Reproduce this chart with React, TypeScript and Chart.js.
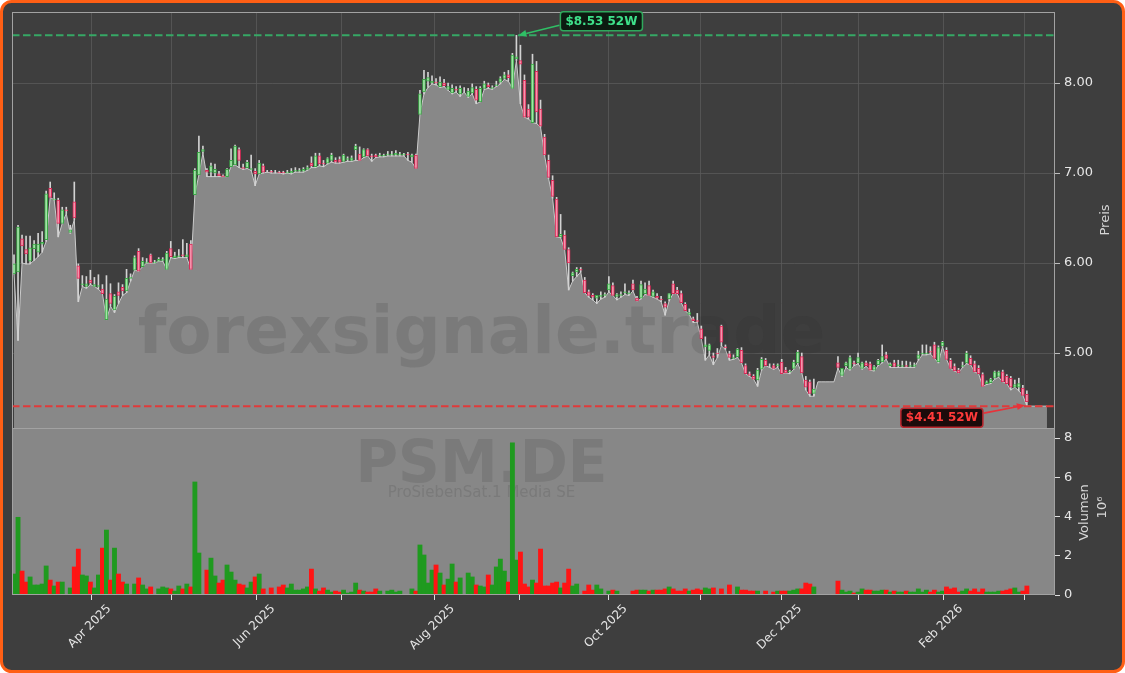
import React, { useEffect, useRef } from 'react';
import { Chart, registerables } from 'chart.js';

Chart.register(...registerables);

// ---------- data (trading-day index 0..252) ----------
const opens = [
  5.88,5.90,6.27,6.15,6.02,6.16,6.12,6.21,6.26,6.83,
  6.70,6.70,6.44,6.59,6.34,6.68,5.97,5.76,5.74,5.81,
  5.74,5.74,5.71,5.37,5.66,5.48,5.68,5.73,5.69,5.83,
  5.92,6.13,5.96,6.00,6.09,6.00,6.02,6.03,5.93,6.16,
  6.06,6.07,6.09,6.07,6.21,6.76,6.98,7.24,7.03,7.01,
  7.00,6.99,6.97,6.96,7.07,7.09,7.26,7.06,7.06,7.04,
  7.02,6.99,7.08,7.02,7.02,7.01,7.01,7.01,7.00,7.00,
  7.02,7.02,7.02,7.04,7.11,7.07,7.19,7.11,7.11,7.14,
  7.14,7.15,7.13,7.15,7.14,7.26,7.21,7.18,7.26,7.19,
  7.20,7.19,7.19,7.20,7.20,7.20,7.20,7.20,7.21,7.18,
  7.20,7.65,7.90,8.02,8.00,8.01,7.96,8.00,7.93,7.89,
  7.93,7.88,7.92,7.85,7.89,7.93,7.79,7.94,7.98,7.94,
  7.97,8.01,8.05,8.09,7.94,8.27,8.25,8.03,7.71,7.56,
  8.13,7.71,7.40,7.14,6.92,6.71,6.29,6.31,6.15,5.86,
  5.90,5.93,5.81,5.68,5.64,5.61,5.63,5.64,5.70,5.75,
  5.63,5.64,5.67,5.66,5.77,5.61,5.61,5.66,5.75,5.63,
  5.63,5.60,5.55,5.60,5.77,5.70,5.66,5.54,5.43,5.38,
  5.36,5.27,5.07,5.03,4.97,5.00,5.30,5.07,4.99,4.94,
  4.96,5.03,4.86,4.77,4.74,4.70,4.82,4.92,4.85,4.86,
  4.86,4.90,4.81,4.79,4.83,4.89,4.96,4.70,4.68,4.55,
  null,null,null,null,null,4.89,4.75,4.86,4.82,4.89,
  4.89,4.83,4.89,4.88,4.81,4.87,4.90,4.98,4.86,4.89,
  4.86,4.85,4.86,4.85,4.85,4.94,4.99,4.99,5.02,5.09,
  4.90,5.08,5.03,4.92,4.85,4.81,4.85,4.89,4.94,4.88,
  4.83,4.76,4.66,4.67,4.72,4.74,4.79,4.74,4.72,4.62,
  4.62,4.61,4.54,
];
const highs = [
  6.09,6.42,6.31,6.30,6.30,6.25,6.33,6.35,6.80,6.90,
  6.78,6.72,6.62,6.62,6.42,6.90,5.99,5.86,5.85,5.92,
  5.84,5.87,5.76,5.86,5.77,5.65,5.78,5.76,5.93,5.88,
  6.08,6.16,6.06,6.05,6.10,6.03,6.06,6.06,6.13,6.24,
  6.12,6.15,6.26,6.22,6.25,7.05,7.41,7.30,7.05,7.11,
  7.10,7.02,6.98,7.05,7.27,7.31,7.28,7.10,7.14,7.20,
  7.05,7.14,7.10,7.03,7.03,7.03,7.02,7.02,7.03,7.05,
  7.06,7.05,7.06,7.08,7.18,7.22,7.22,7.14,7.17,7.22,
  7.17,7.18,7.21,7.18,7.19,7.32,7.29,7.27,7.27,7.21,
  7.21,7.22,7.21,7.24,7.24,7.25,7.23,7.22,7.23,7.21,
  7.21,7.92,8.14,8.12,8.08,8.05,8.07,8.04,8.00,7.98,
  7.96,7.97,7.95,7.94,7.99,7.96,7.96,8.02,8.00,7.97,
  8.02,8.07,8.12,8.14,8.33,8.53,8.42,8.09,7.76,8.32,
  8.24,7.81,7.43,7.20,6.97,6.73,6.54,6.36,6.17,5.90,
  5.95,5.95,5.84,5.70,5.66,5.64,5.68,5.67,5.85,5.78,
  5.66,5.68,5.77,5.69,5.81,5.63,5.80,5.78,5.80,5.70,
  5.66,5.63,5.57,5.66,5.80,5.73,5.69,5.56,5.49,5.40,
  5.44,5.30,5.18,5.10,5.00,5.05,5.31,5.09,5.02,4.98,
  5.05,5.06,4.88,4.79,4.76,4.83,4.95,4.94,4.88,4.88,
  4.88,4.93,4.84,4.81,4.92,5.03,5.00,4.74,4.70,4.71,
  null,null,null,null,null,4.96,4.83,4.90,4.97,4.91,
  5.00,4.90,4.91,4.90,4.86,4.93,5.09,5.01,4.89,4.92,
  4.92,4.91,4.91,4.90,4.89,5.02,5.09,5.09,5.07,5.12,
  5.08,5.13,5.06,4.94,4.88,4.83,4.90,5.02,4.97,4.91,
  4.86,4.78,4.69,4.72,4.80,4.80,4.81,4.76,4.74,4.70,
  4.72,4.64,4.58,
];
const lows = [
  5.88,5.14,6.00,5.99,5.99,6.03,6.07,6.12,6.24,6.73,
  6.70,6.29,6.44,6.55,6.33,6.48,5.57,5.74,5.72,5.76,
  5.74,5.71,5.66,5.37,5.52,5.45,5.55,5.64,5.67,5.80,
  5.92,5.91,5.96,6.00,6.00,6.00,6.02,6.02,5.93,6.06,
  6.05,6.06,6.06,6.06,5.93,6.76,6.98,7.22,6.96,6.96,
  6.96,6.96,6.96,6.96,7.07,7.09,7.06,7.04,7.05,7.03,
  6.86,6.99,7.00,7.01,7.00,7.00,7.00,6.99,7.00,6.99,
  7.01,7.01,7.01,7.03,7.06,7.06,7.08,7.07,7.10,7.12,
  7.11,7.11,7.12,7.13,7.13,7.14,7.14,7.17,7.19,7.13,
  7.17,7.18,7.18,7.19,7.19,7.19,7.19,7.19,7.14,7.12,
  7.05,7.65,7.88,7.95,7.99,7.98,7.95,7.96,7.92,7.88,
  7.90,7.85,7.90,7.84,7.88,7.77,7.79,7.93,7.94,7.93,
  7.96,7.99,8.04,8.02,7.94,8.25,7.77,7.62,7.60,7.56,
  7.55,7.51,7.20,6.94,6.72,6.29,6.28,6.15,5.70,5.80,
  5.85,5.90,5.67,5.62,5.59,5.55,5.60,5.62,5.68,5.64,
  5.59,5.62,5.65,5.64,5.69,5.58,5.60,5.65,5.64,5.62,
  5.60,5.57,5.42,5.58,5.66,5.66,5.56,5.47,5.43,5.34,
  5.34,5.16,4.92,4.98,4.87,4.95,5.08,5.04,4.92,4.93,
  4.95,4.89,4.77,4.74,4.71,4.63,4.81,4.86,4.84,4.82,
  4.84,4.77,4.78,4.77,4.82,4.88,4.78,4.59,4.52,4.52,
  null,null,null,null,null,4.83,4.74,4.84,4.81,4.86,
  4.88,4.82,4.85,4.81,4.80,4.86,4.89,4.93,4.84,4.84,
  4.84,4.84,4.84,4.84,4.84,4.92,4.98,4.98,4.99,4.94,
  4.89,5.07,4.93,4.83,4.80,4.78,4.84,4.88,4.87,4.79,
  4.77,4.63,4.65,4.66,4.71,4.73,4.68,4.66,4.59,4.62,
  4.58,4.53,4.41,
];
const closes = [
  5.99,6.40,6.19,6.10,6.17,6.21,6.21,6.23,6.77,6.73,
  6.71,6.44,6.59,6.58,6.37,6.50,5.83,5.77,5.77,5.78,
  5.76,5.75,5.66,5.60,5.55,5.63,5.64,5.69,5.83,5.84,
  6.06,5.91,6.02,6.01,6.00,6.01,6.04,6.04,6.11,6.07,
  6.08,6.08,6.08,6.09,5.93,7.03,7.23,7.26,7.01,7.08,
  7.04,6.97,6.96,7.04,7.14,7.30,7.14,7.05,7.12,7.05,
  6.99,7.11,7.01,7.02,7.01,7.01,7.00,7.00,7.01,7.02,
  7.03,7.03,7.04,7.06,7.08,7.19,7.10,7.10,7.16,7.20,
  7.12,7.12,7.20,7.16,7.17,7.30,7.14,7.26,7.19,7.18,
  7.18,7.20,7.20,7.21,7.21,7.22,7.21,7.21,7.20,7.20,
  7.05,7.88,8.04,8.06,8.02,8.00,8.01,7.97,7.96,7.94,
  7.92,7.94,7.92,7.91,7.95,7.81,7.94,7.99,7.96,7.95,
  7.98,8.05,8.09,8.06,8.31,8.29,8.21,7.62,7.62,8.21,
  7.68,7.52,7.20,6.95,6.74,6.29,6.32,6.15,6.00,5.89,
  5.93,5.92,5.67,5.64,5.62,5.64,5.64,5.65,5.77,5.64,
  5.65,5.65,5.68,5.67,5.70,5.58,5.76,5.71,5.64,5.68,
  5.61,5.59,5.51,5.66,5.66,5.66,5.56,5.47,5.45,5.36,
  5.35,5.16,5.09,5.09,4.95,4.99,5.12,5.06,4.95,4.95,
  5.04,4.89,4.77,4.75,4.71,4.81,4.93,4.86,4.85,4.83,
  4.87,4.77,4.78,4.80,4.90,5.01,4.78,4.62,4.55,4.60,
  null,null,null,null,null,4.84,4.83,4.89,4.95,4.88,
  4.95,4.89,4.86,4.81,4.85,4.92,4.96,4.94,4.88,4.85,
  4.87,4.86,4.85,4.86,4.87,4.98,5.00,5.00,5.01,4.94,
  5.06,5.12,4.93,4.83,4.80,4.78,4.86,5.00,4.87,4.79,
  4.77,4.63,4.68,4.71,4.79,4.79,4.68,4.66,4.62,4.65,
  4.66,4.53,4.46,
];
// volume in millions
const volumes = [
  1.07,3.96,1.22,0.66,0.92,0.51,0.51,0.56,1.48,0.76,
  0.46,0.66,0.66,0,0.36,1.43,2.34,1.02,0.97,0.66,
  0.36,1.02,2.39,3.31,0.76,2.39,1.07,0.66,0.56,0,
  0.56,0.87,0.51,0.31,0.41,0,0.31,0.41,0.36,0.31,
  0.20,0.46,0.31,0.56,0.41,5.76,2.14,0,1.27,1.88,
  0.97,0.61,0.76,1.53,1.17,0.76,0.56,0.51,0.36,0.66,
  0.92,1.07,0.31,0,0.36,0,0.41,0.51,0.36,0.56,
  0.25,0.25,0.31,0.41,1.32,0.31,0.20,0.36,0.25,0.15,
  0.20,0.15,0.25,0.10,0.15,0.61,0.25,0.20,0.15,0.15,
  0.31,0.20,0,0.20,0.25,0.15,0.20,0,0,0.31,
  0.20,2.55,2.04,0.61,1.27,1.53,1.12,0.51,0.81,1.58,
  0.66,0.87,0,1.12,0.92,0.51,0.46,0.41,1.02,0.51,
  1.43,1.83,1.22,0.66,7.76,1.78,2.19,0.56,0.41,0.76,
  0.61,2.34,0.46,0.46,0.61,0.66,0.36,0.61,1.32,0.46,
  0.56,0,0.20,0.51,0.25,0.51,0.31,0,0.20,0.25,
  0.20,0,0,0,0.20,0.25,0.25,0.25,0.20,0.25,
  0.25,0.25,0.31,0.41,0.31,0.20,0.20,0.31,0.20,0.25,
  0.31,0.25,0.36,0.31,0.36,0,0.31,0,0.51,0,
  0.41,0.25,0.25,0.20,0.20,0.20,0,0.20,0,0.15,
  0.20,0.20,0.20,0.20,0.25,0.31,0.31,0.61,0.56,0.41,
  0,0,0,0,0,0.71,0.25,0.15,0.20,0.10,
  0.15,0.31,0.25,0.25,0.20,0.20,0.25,0.25,0.15,0.20,
  0.15,0.15,0.20,0.15,0.15,0.31,0.15,0.25,0.15,0.25,
  0.15,0.20,0.41,0.31,0.36,0.15,0.20,0.31,0.20,0.31,
  0.15,0.31,0.15,0.15,0.15,0.20,0.20,0.25,0.31,0.36,
  0.15,0.20,0.46,
];

const monthTickPos = [19.33, 39.23, 60.3, 81.5, 104.55, 125.7, 147.8, 170.7, 191.0, 210.0, 231.2, 251.3];
const monthTickLabels = ['Apr 2025', '', 'Jun 2025', '', 'Aug 2025', '', 'Oct 2025', '', 'Dec 2025', '', 'Feb 2026', ''];
const priceTicks = [5, 6, 7, 8];
const volumeTicks = [0, 2, 4, 6, 8];

const high52 = 8.53;
const high52Index = 125;
const low52 = 4.41;
const low52Index = 252;
const gapLevel = 4.68; // level of the line across the days without candles
const tailEnd = 257; // the filled area runs on flat to this index

const watermark = 'forexsignale.trade';
const tickerText = 'PSM.DE';
const companyText = 'ProSiebenSat.1 Media SE';

// ---------- style ----------
const FONT = "'DejaVu Sans', 'Liberation Sans', sans-serif";
const FIG_BG = '#3e3e3e';
const PANEL_GRAY = '#878787';
const GRID = '#5a5a5a';
const TICK_TXT = '#e6e6e6';
const LABEL_TXT = '#d6d6d6';
const UP_FILL = '#a3e4a8';
const UP_EDGE = '#3aa845';
const DN_FILL = '#f495ad';
const DN_EDGE = '#d92a57';
const VOL_UP = '#1f9a1f';
const VOL_DN = '#ff1414';

function roundRectPath(ctx: CanvasRenderingContext2D, x: number, y: number, w: number, h: number, r: number) {
  ctx.beginPath();
  ctx.moveTo(x + r, y);
  ctx.lineTo(x + w - r, y);
  ctx.arcTo(x + w, y, x + w, y + r, r);
  ctx.lineTo(x + w, y + h - r);
  ctx.arcTo(x + w, y + h, x + w - r, y + h, r);
  ctx.lineTo(x + r, y + h);
  ctx.arcTo(x, y + h, x, y + h - r, r);
  ctx.lineTo(x, y + r);
  ctx.arcTo(x, y, x + r, y, r);
  ctx.closePath();
}

function drawArrow(ctx: CanvasRenderingContext2D, x1: number, y1: number, x2: number, y2: number, color: string) {
  const ang = Math.atan2(y2 - y1, x2 - x1);
  const head = 8;
  const bx = x2 - head * Math.cos(ang);
  const by = y2 - head * Math.sin(ang);
  ctx.strokeStyle = color;
  ctx.fillStyle = color;
  ctx.lineWidth = 1.6;
  ctx.beginPath();
  ctx.moveTo(x1, y1);
  ctx.lineTo(bx, by);
  ctx.stroke();
  ctx.beginPath();
  ctx.moveTo(x2, y2);
  ctx.lineTo(bx + 3.5 * Math.sin(ang), by - 3.5 * Math.cos(ang));
  ctx.lineTo(bx - 3.5 * Math.sin(ang), by + 3.5 * Math.cos(ang));
  ctx.closePath();
  ctx.fill();
}

function drawTag(ctx: CanvasRenderingContext2D, cx: number, cy: number, text: string, txtColor: string, fill: string, edge: string) {
  ctx.font = `bold 12px ${FONT}`;
  const w = ctx.measureText(text).width + 10;
  const h = 19;
  roundRectPath(ctx, cx - w / 2, cy - h / 2, w, h, 3);
  ctx.fillStyle = fill;
  ctx.fill();
  ctx.lineWidth = 1.5;
  ctx.strokeStyle = edge;
  ctx.stroke();
  ctx.fillStyle = txtColor;
  ctx.textAlign = 'center';
  ctx.textBaseline = 'middle';
  ctx.fillText(text, cx, cy + 0.5);
}

const VOL_DATASET = 1;

const decorPlugin = {
  id: 'decor',
  beforeDraw(chart: any) {
    const ctx = chart.ctx as CanvasRenderingContext2D;
    ctx.save();
    ctx.fillStyle = '#ffffff';
    ctx.fillRect(0, 0, chart.width, chart.height);
    roundRectPath(ctx, 1.5, 1.5, chart.width - 3, chart.height - 3, 10);
    ctx.fillStyle = FIG_BG;
    ctx.fill();
    ctx.lineWidth = 3;
    ctx.strokeStyle = '#ff5f15';
    ctx.stroke();
    ctx.restore();
  },
  beforeDatasetsDraw(chart: any) {
    const ctx = chart.ctx as CanvasRenderingContext2D;
    const a = chart.chartArea;
    const yv = chart.scales.yVol;
    ctx.save();
    ctx.fillStyle = PANEL_GRAY;
    ctx.fillRect(a.left, yv.top, a.right - a.left, yv.bottom - yv.top);
    ctx.restore();
  },
  beforeDatasetDraw(chart: any, args: any) {
    if (args.index !== VOL_DATASET) return;
    const ctx = chart.ctx as CanvasRenderingContext2D;
    const a = chart.chartArea;
    const cx = (a.left + a.right) / 2 - 52;
    ctx.save();
    ctx.fillStyle = 'rgba(40,40,40,0.14)';
    ctx.textAlign = 'center';
    ctx.textBaseline = 'alphabetic';
    ctx.font = `bold 66px ${FONT}`;
    ctx.fillText(watermark, cx, 353);
    ctx.font = `bold 58px ${FONT}`;
    ctx.fillText(tickerText, cx, 482);
    ctx.font = `15px ${FONT}`;
    ctx.fillText(companyText, cx, 497);
    ctx.restore();
  },
  afterDatasetsDraw(chart: any) {
    const ctx = chart.ctx as CanvasRenderingContext2D;
    const a = chart.chartArea;
    const x = chart.scales.x;
    const y = chart.scales.y;
    const yv = chart.scales.yVol;
    ctx.save();
    // spines
    ctx.strokeStyle = '#a2a2a2';
    ctx.lineWidth = 1;
    ctx.strokeRect(a.left + 0.5, y.top + 0.5, a.right - a.left - 1, y.bottom - y.top);
    ctx.strokeRect(a.left + 0.5, yv.top + 0.5, a.right - a.left - 1, yv.bottom - yv.top - 1);
    // 52W high tag
    const hx = x.getPixelForValue(high52Index);
    const hy = y.getPixelForValue(high52);
    drawArrow(ctx, hx + 43, hy - 10, hx + 2, hy, '#2fbf65');
    drawTag(ctx, hx + 85, hy - 14, `$${high52.toFixed(2)} 52W`, '#3ee08a', '#0c1a10', '#2fa85c');
    // 52W low tag
    const lx = x.getPixelForValue(low52Index);
    const ly = y.getPixelForValue(low52);
    drawArrow(ctx, lx - 43, ly + 7, lx - 2, ly - 1, '#e8323a');
    drawTag(ctx, lx - 85, ly + 11.5, `$${low52.toFixed(2)} 52W`, '#ff3a3a', '#1c0b0b', '#b8262d');
    ctx.restore();
  },
  afterDraw(chart: any) {
    const ctx = chart.ctx as CanvasRenderingContext2D;
    const a = chart.chartArea;
    const x = chart.scales.x;
    const y = chart.scales.y;
    const yv = chart.scales.yVol;
    ctx.save();
    // rotated month labels, box centred on the tick (matplotlib style)
    ctx.font = `12px ${FONT}`;
    ctx.fillStyle = TICK_TXT;
    ctx.textAlign = 'center';
    ctx.textBaseline = 'middle';
    monthTickPos.forEach((pos, i) => {
      const label = monthTickLabels[i];
      if (!label) return;
      const w = ctx.measureText(label).width;
      const side = (w + 14) * Math.SQRT1_2;
      const px = x.getPixelForValue(pos) - 2;
      const py = a.bottom + 7 + side / 2;
      ctx.save();
      ctx.translate(px, py);
      ctx.rotate(-Math.PI / 4);
      ctx.fillText(label, 0, 0);
      ctx.restore();
    });
    // axis titles
    ctx.fillStyle = LABEL_TXT;
    ctx.font = `13px ${FONT}`;
    const rot = (text: string, cx: number, cy: number) => {
      ctx.save();
      ctx.translate(cx, cy);
      ctx.rotate(-Math.PI / 2);
      ctx.fillText(text, 0, 0);
      ctx.restore();
    };
    rot('Preis', a.right + 51, (y.top + y.bottom) / 2);
    rot('Volumen', a.right + 30, (yv.top + yv.bottom) / 2 + 1);
    rot('10\u2076', a.right + 48, (yv.top + yv.bottom) / 2 - 4);
    ctx.restore();
  },
};

export default function App() {
  const ref = useRef<HTMLCanvasElement | null>(null);

  useEffect(() => {
    document.body.style.margin = '0';
    const canvas = ref.current;
    if (!canvas) return;

    const idx = opens.map((_, i) => i);
    const valid = idx.filter((i) => opens[i] != null);
    const isUp = (i: number) => (closes[i] as number) >= (opens[i] as number);

    const areaData: { x: number; y: number }[] = idx.map((i) => ({ x: i, y: (lows[i] ?? gapLevel) as number }));
    const lastLow = lows[lows.length - 1] as number;
    for (let i = lows.length; i <= tailEnd; i++) areaData.push({ x: i, y: lastLow });

    const volData = idx.map((i) => ({ x: i, y: volumes[i] }));
    const volColors = idx.map((i) => (opens[i] != null && isUp(i) ? VOL_UP : VOL_DN));

    const wickData = valid.map((i) => ({ x: i, y: [lows[i], highs[i]] }));
    const bodyData = valid.map((i) => ({ x: i, y: [opens[i], closes[i]] }));
    const bodyFill = valid.map((i) => (isUp(i) ? UP_FILL : DN_FILL));
    const bodyEdge = valid.map((i) => (isUp(i) ? UP_EDGE : DN_EDGE));

    const xMin = -0.5;
    const xMax = 259;

    const chart = new Chart(canvas, {
      type: 'line',
      data: {
        datasets: [
          {
            type: 'line',
            label: 'area',
            data: areaData,
            yAxisID: 'y',
            borderColor: '#cbcbcb',
            borderWidth: 1,
            backgroundColor: '#888888',
            fill: 'start',
            pointRadius: 0,
            tension: 0,
            order: 10,
          },
          {
            type: 'bar',
            label: 'volume',
            data: volData,
            yAxisID: 'yVol',
            backgroundColor: volColors,
            borderWidth: 0,
            grouped: false,
            barThickness: 4.2,
            order: 9,
          },
          {
            type: 'bar',
            label: 'wick',
            data: wickData,
            yAxisID: 'y',
            backgroundColor: '#d2d2d2',
            borderWidth: 0,
            grouped: false,
            barThickness: 1,
            order: 8,
          },
          {
            type: 'bar',
            label: 'body',
            data: bodyData,
            yAxisID: 'y',
            backgroundColor: bodyFill,
            borderColor: bodyEdge,
            borderWidth: 1,
            borderSkipped: false,
            grouped: false,
            barThickness: 3,
            order: 7,
          },
          {
            type: 'line',
            label: 'high52',
            data: [{ x: xMin, y: high52 }, { x: xMax, y: high52 }],
            yAxisID: 'y',
            borderColor: '#36a865',
            borderWidth: 2,
            borderDash: [7.5, 3.5],
            pointRadius: 0,
            fill: false,
            order: 6,
          },
          {
            type: 'line',
            label: 'low52',
            data: [{ x: xMin, y: low52 }, { x: xMax, y: low52 }],
            yAxisID: 'y',
            borderColor: '#e03a3a',
            borderWidth: 2,
            borderDash: [7.5, 3.5],
            pointRadius: 0,
            fill: false,
            order: 5,
          },
        ] as any,
      },
      options: {
        responsive: false,
        maintainAspectRatio: false,
        devicePixelRatio: 1,
        animation: false,
        events: [],
        layout: { padding: { left: 12, top: 12, right: 10, bottom: 0 } },
        plugins: {
          legend: { display: false },
          tooltip: { enabled: false },
        },
        scales: {
          x: {
            type: 'linear',
            min: xMin,
            max: xMax,
            offset: false,
            afterBuildTicks: (s: any) => {
              s.ticks = monthTickPos.map((v) => ({ value: v }));
            },
            ticks: { display: false },
            grid: {
              color: GRID,
              lineWidth: 0.8,
              offset: false,
              drawTicks: true,
              tickLength: 5,
              tickColor: '#dedede',
              tickWidth: 1,
            },
            border: { display: false },
            afterFit: (s: any) => {
              s.height = 78;
            },
          },
          y: {
            type: 'linear',
            position: 'right',
            stack: 'panels',
            stackWeight: 416,
            min: 4.167,
            max: 8.789,
            afterBuildTicks: (s: any) => {
              s.ticks = priceTicks.map((v) => ({ value: v }));
            },
            ticks: {
              color: TICK_TXT,
              font: { family: FONT, size: 13 },
              padding: 4,
              autoSkip: false,
              callback: (v: any) => Number(v).toFixed(2),
            },
            grid: { color: GRID, lineWidth: 0.8, tickLength: 5, tickColor: '#dedede' },
            border: { display: false },
            afterFit: (s: any) => {
              s.width = 60;
            },
          },
          yVol: {
            type: 'linear',
            position: 'right',
            stack: 'panels',
            stackWeight: 167,
            min: 0,
            max: 8.51,
            afterBuildTicks: (s: any) => {
              s.ticks = volumeTicks.map((v) => ({ value: v }));
            },
            ticks: {
              color: TICK_TXT,
              font: { family: FONT, size: 13 },
              padding: 4,
              autoSkip: false,
              callback: (v: any) => String(v),
            },
            grid: { drawOnChartArea: false, tickLength: 5, tickColor: '#dedede' },
            border: { display: false },
            afterFit: (s: any) => {
              s.width = 60;
            },
          },
        },
      } as any,
      plugins: [decorPlugin],
    });

    return () => chart.destroy();
  }, []);

  return (
    <div style={{ position: 'fixed', left: 0, top: 0, width: 1125, height: 673 }}>
      <canvas ref={ref} width={1125} height={673} style={{ display: 'block', width: 1125, height: 673 }} />
    </div>
  );
}
